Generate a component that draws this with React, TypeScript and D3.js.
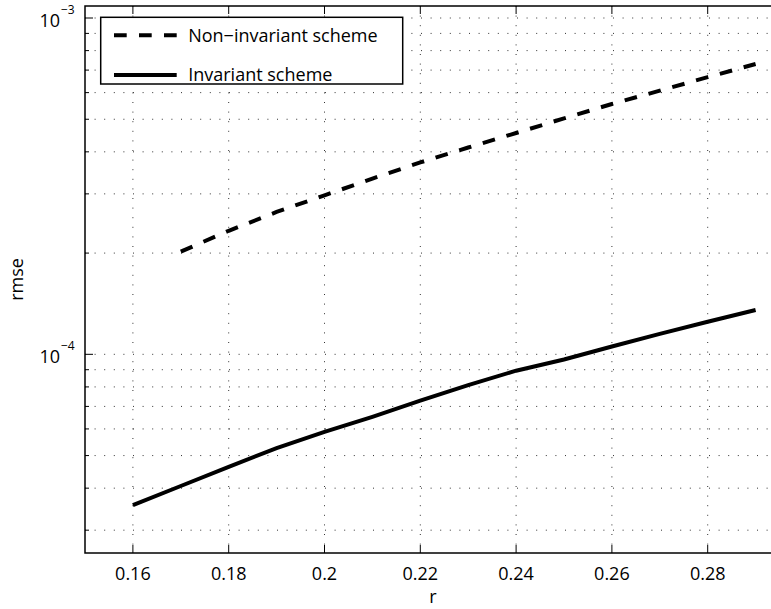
import React, { useEffect, useRef } from "react";
import * as d3 from "d3";

// values
const rNonInvariant = [0.17, 0.18, 0.19, 0.2, 0.21, 0.22, 0.23, 0.24, 0.25, 0.26, 0.27, 0.28, 0.29];
const rmseNonInvariant = [
  2.02e-4, 2.33e-4, 2.65e-4, 2.97e-4, 3.33e-4, 3.72e-4, 4.12e-4, 4.55e-4, 5.03e-4, 5.55e-4, 6.08e-4, 6.67e-4, 7.3e-4,
];
const rInvariant = [0.16, 0.17, 0.18, 0.19, 0.2, 0.21, 0.22, 0.23, 0.24, 0.25, 0.26, 0.27, 0.28, 0.29];
const rmseInvariant = [
  3.56e-5, 4.06e-5, 4.63e-5, 5.26e-5, 5.88e-5, 6.52e-5, 7.28e-5, 8.1e-5, 8.94e-5, 9.65e-5, 1.055e-4, 1.15e-4,
  1.25e-4, 1.354e-4,
];
// 0.3 sits past the cropped right edge: grid/tick only
const xTicks = [0.16, 0.18, 0.2, 0.22, 0.24, 0.26, 0.28, 0.3];
const xLabelTicks = [0.16, 0.18, 0.2, 0.22, 0.24, 0.26, 0.28];
const xTickLabels = ["0.16", "0.18", "0.2", "0.22", "0.24", "0.26", "0.28"];
const yMajorTicks = [1e-4, 1e-3];
const yMajorExponents = ["\u22124", "\u22123"];
const yMinorTicks = [3e-5, 4e-5, 5e-5, 6e-5, 7e-5, 8e-5, 9e-5, 2e-4, 3e-4, 4e-4, 5e-4, 6e-4, 7e-4, 8e-4, 9e-4];
const legendLabels = ["Non\u2212invariant scheme", "Invariant scheme"];

const FONT = "'Open Sans', 'DejaVu Sans', sans-serif";

export default function App() {
  const ref = useRef<SVGSVGElement>(null);

  useEffect(() => {
    const margin = { top: 6, left: 85 };
    const width = 718.5;
    const height = 547;

    const svg = d3.select(ref.current);
    svg.selectAll("*").remove();

    const g = svg.append("g").attr("transform", `translate(${margin.left}, ${margin.top})`);

    const x = d3.scaleLinear().domain([0.15, 0.3]).range([0, width]);
    const y = d3.scaleLog().domain([2.566e-5, 1.0857e-3]).range([height, 0]);

    // dotted grid
    const gridStyle = (sel: any) =>
      sel.attr("stroke", "#333").attr("stroke-width", 1).attr("stroke-dasharray", "1 8.6").attr("fill", "none");

    g.selectAll(".vgrid")
      .data(xTicks)
      .join("line")
      .attr("class", "vgrid")
      .attr("x1", (d) => x(d))
      .attr("x2", (d) => x(d))
      .attr("y1", 0)
      .attr("y2", height)
      .call(gridStyle);

    g.selectAll(".hgrid")
      .data([...yMajorTicks, ...yMinorTicks])
      .join("line")
      .attr("class", "hgrid")
      .attr("x1", 0)
      .attr("x2", width)
      .attr("y1", (d) => y(d))
      .attr("y2", (d) => y(d))
      .call(gridStyle);

    // axes box
    g.append("rect")
      .attr("x", 0)
      .attr("y", 0)
      .attr("width", width)
      .attr("height", height)
      .attr("fill", "none")
      .attr("stroke", "#000")
      .attr("stroke-width", 1.5);

    // x ticks (inward, bottom and top)
    g.selectAll(".xtick-b")
      .data(xTicks)
      .join("line")
      .attr("x1", (d) => x(d))
      .attr("x2", (d) => x(d))
      .attr("y1", height)
      .attr("y2", height - 8)
      .attr("stroke", "#000");
    g.selectAll(".xtick-t")
      .data(xTicks)
      .join("line")
      .attr("x1", (d) => x(d))
      .attr("x2", (d) => x(d))
      .attr("y1", 0)
      .attr("y2", 8)
      .attr("stroke", "#000");

    g.selectAll(".xlabel")
      .data(xLabelTicks)
      .join("text")
      .attr("x", (d) => x(d))
      .attr("y", height + 27)
      .attr("text-anchor", "middle")
      .attr("font-family", FONT)
      .attr("font-size", 18)
      .text((d, i) => xTickLabels[i]);

    // y ticks
    g.selectAll(".ytick-major")
      .data(yMajorTicks)
      .join("line")
      .attr("x1", 0)
      .attr("x2", 8)
      .attr("y1", (d) => y(d))
      .attr("y2", (d) => y(d))
      .attr("stroke", "#000");
    g.selectAll(".ytick-minor")
      .data(yMinorTicks)
      .join("line")
      .attr("x1", 0)
      .attr("x2", 4)
      .attr("y1", (d) => y(d))
      .attr("y2", (d) => y(d))
      .attr("stroke", "#000");

    const ylab = g.selectAll(".ylabel").data(yMajorTicks).join("g");
    ylab
      .append("text")
      .attr("x", -25)
      .attr("y", (d) => y(d) + 8.5)
      .attr("text-anchor", "end")
      .attr("font-family", FONT)
      .attr("font-size", 18)
      .text("10");
    ylab
      .append("text")
      .attr("x", -24)
      .attr("y", (d) => y(d) - 4)
      .attr("font-family", FONT)
      .attr("font-size", 12)
      .text((d, i) => yMajorExponents[i]);

    // axis titles
    g.append("text")
      .attr("x", 348)
      .attr("y", height + 50)
      .attr("text-anchor", "middle")
      .attr("font-family", FONT)
      .attr("font-size", 18)
      .text("r");
    g.append("text")
      .attr("transform", `translate(-62, ${height / 2}) rotate(-90)`)
      .attr("text-anchor", "middle")
      .attr("font-family", FONT)
      .attr("font-size", 18)
      .text("rmse");

    // lines
    const nonInv = rNonInvariant.map((r, i) => [x(r), y(rmseNonInvariant[i])] as [number, number]);
    const inv = rInvariant.map((r, i) => [x(r), y(rmseInvariant[i])] as [number, number]);
    const path = d3.line();

    g.append("path")
      .attr("d", path(nonInv))
      .attr("fill", "none")
      .attr("stroke", "#000")
      .attr("stroke-width", 4)
      .attr("stroke-dasharray", "12.7 12");
    g.append("path")
      .attr("d", path(inv))
      .attr("fill", "none")
      .attr("stroke", "#000")
      .attr("stroke-width", 4);

    // legend
    const legend = svg.append("g").attr("transform", "translate(100.7, 17.3)");
    legend
      .append("rect")
      .attr("width", 302)
      .attr("height", 66.7)
      .attr("fill", "#fff")
      .attr("stroke", "#000")
      .attr("stroke-width", 1.5);
    const rows = [17.9, 57.7];
    legend
      .selectAll(".lg-line")
      .data(legendLabels)
      .join("line")
      .attr("x1", 13.3)
      .attr("x2", 76)
      .attr("y1", (d, i) => rows[i])
      .attr("y2", (d, i) => rows[i])
      .attr("stroke", "#000")
      .attr("stroke-width", 4)
      .attr("stroke-dasharray", (d, i) => (i === 0 ? "12.7 12.3" : null));
    legend
      .selectAll(".lg-text")
      .data(legendLabels)
      .join("text")
      .attr("x", 87.5)
      .attr("y", (d, i) => rows[i] + 6.5)
      .attr("font-family", FONT)
      .attr("font-size", 18)
      .text((d) => d);
  }, []);

  return (
    <svg
      ref={ref}
      width={771}
      height={609}
      style={{ position: "absolute", left: 0, top: 0, background: "#fff" }}
    />
  );
}
